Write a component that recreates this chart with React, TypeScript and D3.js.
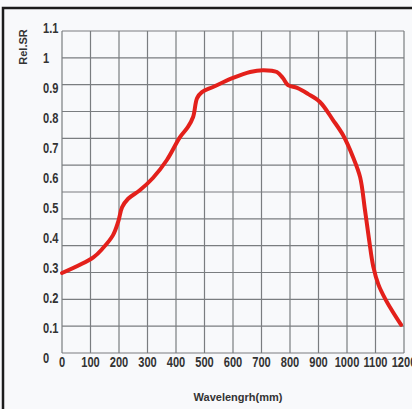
import * as d3 from 'd3';
import { useEffect, useRef } from 'react';

// wavelength (nm) and relative spectral response
const wavelength = [0, 110, 144, 179, 197, 211, 232, 274, 319, 368, 414, 442, 460, 474, 491, 530, 600, 660, 705, 754, 775, 793, 825, 863, 905, 951, 986, 1021, 1046, 1063, 1078, 1092, 1110, 1135, 1161, 1190];
const relSR = [0.283, 0.335, 0.366, 0.409, 0.453, 0.502, 0.53, 0.559, 0.599, 0.659, 0.735, 0.769, 0.802, 0.865, 0.885, 0.902, 0.932, 0.952, 0.958, 0.952, 0.932, 0.908, 0.899, 0.879, 0.852, 0.792, 0.742, 0.669, 0.602, 0.493, 0.39, 0.305, 0.245, 0.195, 0.153, 0.11];

const xTicks = [0, 100, 200, 300, 400, 500, 600, 700, 800, 900, 1000, 1100, 1200];
const yTicks = [0, 0.1, 0.2, 0.3, 0.4, 0.5, 0.6, 0.7, 0.8, 0.9, 1, 1.1];
const gridRows = d3.range(0, 13);

export default function App() {
  const ref = useRef<SVGSVGElement | null>(null);

  useEffect(() => {
    document.body.style.margin = '0';
    if (!ref.current) return;
    const width = 412;
    const height = 409;
    const svg = d3.select(ref.current).attr('width', width).attr('height', height);
    svg.selectAll('*').remove();

    const font = '"Liberation Sans", Arial, sans-serif';

    svg.append('rect').attr('width', width).attr('height', height).attr('fill', '#f8f9fb');

    const x = d3.scaleLinear().domain([0, 1200]).range([62, 404]);
    const y = d3.scaleLinear().domain([0, 1.1]).range([358, 27.5]);
    // the grid in the source has 12 rows, not tied to the labels
    const yGrid = d3.scaleLinear().domain([0, 12]).range([353, 31]);

    /* grid */
    const g = svg.append('g');
    g.selectAll('line.v')
      .data(xTicks)
      .enter()
      .append('line')
      .attr('x1', (d) => x(d))
      .attr('x2', (d) => x(d))
      .attr('y1', yGrid(12))
      .attr('y2', yGrid(0))
      .attr('stroke', '#7a7d80')
      .attr('stroke-width', 1.2);
    g.selectAll('line.h')
      .data(gridRows)
      .enter()
      .append('line')
      .attr('x1', x(0))
      .attr('x2', x(1200))
      .attr('y1', (d) => yGrid(d))
      .attr('y2', (d) => yGrid(d))
      .attr('stroke', '#7a7d80')
      .attr('stroke-width', 1.2);

    /* tick labels (condensed digits) */
    svg.selectAll('text.yt')
      .data(yTicks)
      .enter()
      .append('text')
      .attr('transform', (d) => `translate(43,${y(d)}) scale(0.74,1)`)
      .attr('dominant-baseline', 'central')
      .attr('font-family', font)
      .attr('font-weight', 'bold')
      .attr('font-size', 15)
      .attr('fill', '#333')
      .text((d) => String(d));

    svg.selectAll('text.xt')
      .data(xTicks)
      .enter()
      .append('text')
      .attr('transform', (d) => `translate(${x(d)},362) scale(0.74,1)`)
      .attr('text-anchor', 'middle')
      .attr('dominant-baseline', 'central')
      .attr('font-family', font)
      .attr('font-weight', 'bold')
      .attr('font-size', 15)
      .attr('fill', '#333')
      .text((d) => String(d));

    /* axis titles */
    svg.append('text')
      .attr('transform', 'translate(23,47) rotate(-90)')
      .attr('text-anchor', 'middle')
      .attr('dominant-baseline', 'central')
      .attr('font-family', font)
      .attr('font-weight', 'bold')
      .attr('font-size', 11)
      .attr('fill', '#333')
      .text('Rel.SR');

    svg.append('text')
      .attr('x', 238)
      .attr('y', 397)
      .attr('text-anchor', 'middle')
      .attr('dominant-baseline', 'central')
      .attr('font-family', font)
      .attr('font-weight', 'bold')
      .attr('font-size', 11)
      .attr('fill', '#333')
      .text('Wavelengrh(mm)');

    /* curve */
    const line = d3
      .line<number>()
      .x((_, i) => x(wavelength[i]))
      .y((d) => y(d))
      .curve(d3.curveCatmullRom.alpha(0.5));
    svg.append('path')
      .datum(relSR)
      .attr('d', line)
      .attr('fill', 'none')
      .attr('stroke', '#e3201b')
      .attr('stroke-width', 4)
      .attr('stroke-linecap', 'round')
      .attr('stroke-linejoin', 'round');

    /* frame */
    svg.append('path')
      .attr('d', `M3,${height} L3,8 L${width},8`)
      .attr('fill', 'none')
      .attr('stroke', '#1c1c1c')
      .attr('stroke-width', 2.5);
  }, []);

  return <svg ref={ref} style={{ display: 'block' }} />;
}
